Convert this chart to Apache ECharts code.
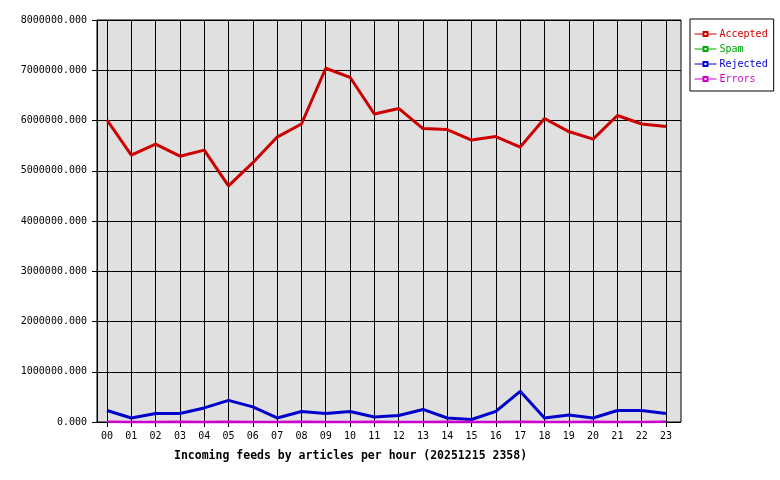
<!DOCTYPE html>
<html><head><meta charset="utf-8">
<script src="https://cdn.jsdelivr.net/npm/echarts@6/dist/echarts.min.js"></script>
<style>html,body{margin:0;padding:0;background:#fff}#c{width:780px;height:480px}</style>
</head><body><div id="c"></div>
<script>
const hours = ['00','01','02','03','04','05','06','07','08','09','10','11','12','13','14','15','16','17','18','19','20','21','22','23'];
const accepted = [6010000,5310000,5530000,5290000,5410000,4700000,5160000,5670000,5930000,7040000,6860000,6130000,6240000,5840000,5820000,5610000,5680000,5470000,6040000,5780000,5630000,6100000,5930000,5880000];
const spam = [0,0,0,0,0,0,0,0,0,0,0,0,0,0,0,0,0,0,0,0,0,0,0,0];
const rejected = [230000,80000,170000,170000,280000,430000,300000,80000,210000,170000,210000,100000,130000,250000,80000,50000,210000,610000,80000,140000,80000,230000,230000,170000];
const errors = [3000,2000,2000,3000,2000,3000,2000,2000,3000,2000,2000,3000,2000,2000,3000,2000,2000,3000,2000,2000,3000,2000,2000,3000];
const yTicks = {min:0, max:8000000, interval:1000000};
const titleText = 'Incoming feeds by articles per hour (20251215 2358)';

const mono = 'DejaVu Sans Mono';
const chart = echarts.init(document.getElementById('c'), null, {renderer:'canvas'});
function ser(name, data, color, width){
  return {name, type:'line', data, xAxisIndex:1, yAxisIndex:1, symbol:'emptyRect', symbolSize:4,
    showSymbol:false, clip:false, animation:false, lineStyle:{color, width}, itemStyle:{color}, emphasis:{disabled:true}};
}
chart.setOption({
  animation:false,
  title:{text:titleText, left:169, top:445, textStyle:{fontFamily:mono, fontWeight:'bold', fontSize:11.5, color:'#000'}},
  legend:{orient:'vertical', left:690, top:19, backgroundColor:'#fff', borderColor:'#000', borderWidth:1,
    padding:[9,6,6,4], itemWidth:22, itemHeight:5, itemGap:3,
    lineStyle:{width:1}, itemStyle:{borderWidth:1},
    textStyle:{fontFamily:mono, fontSize:10, lineHeight:12, padding:[0,0,0,-2]},
    data:[{name:'Accepted',textStyle:{color:'#cc0000'}},{name:'Spam',textStyle:{color:'#00aa00'}},
          {name:'Rejected',textStyle:{color:'#0000cc'}},{name:'Errors',textStyle:{color:'#cc00cc'}}]},
  grid:[
    {left:97, top:20, width:584, height:402, show:true, backgroundColor:'#e0e0e0', borderColor:'#000', borderWidth:1, containLabel:false},
    {left:107, top:20, width:559, height:402, containLabel:false}
  ],
  xAxis:[
    {type:'value', gridIndex:0, min:0, max:1, show:false},
    {type:'category', gridIndex:1, data:hours, boundaryGap:false,
     axisLine:{show:false}, axisTick:{show:true, length:5, lineStyle:{color:'#000'}},
     axisLabel:{fontFamily:mono, fontSize:10, color:'#000', margin:9, interval:0},
     splitLine:{show:true, lineStyle:{color:'#000', width:1}}}
  ],
  yAxis:[
    {type:'value', gridIndex:0, min:yTicks.min, max:yTicks.max, interval:yTicks.interval,
     axisLine:{show:true, lineStyle:{color:'#000'}}, axisTick:{show:true, length:5, lineStyle:{color:'#000'}},
     axisLabel:{fontFamily:mono, fontSize:10, color:'#000', margin:10, formatter:v=>v.toFixed(3)},
     splitLine:{show:true, lineStyle:{color:'#000', width:1}}},
    {type:'value', gridIndex:1, min:yTicks.min, max:yTicks.max, show:false, splitLine:{show:false}}
  ],
  series:[
    ser('Accepted', accepted, '#cc0000', 3),
    ser('Spam', spam, '#00aa00', 2),
    ser('Rejected', rejected, '#0000cc', 3),
    ser('Errors', errors, '#cc00cc', 2.5)
  ]
});
</script></body></html>
